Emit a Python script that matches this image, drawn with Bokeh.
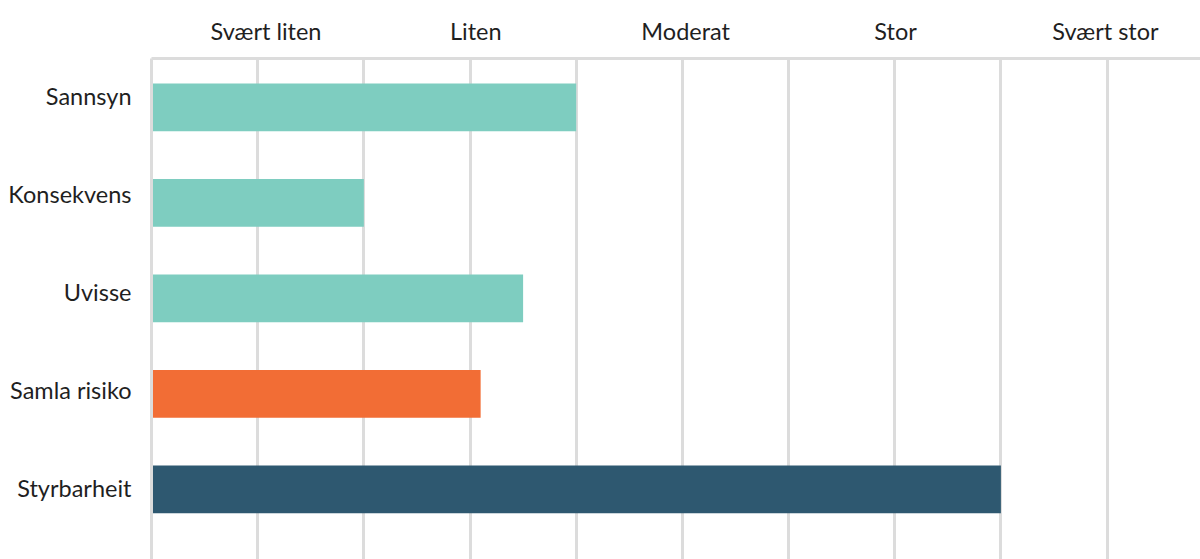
from bokeh.plotting import figure
from bokeh.models import Range1d, LinearAxis, FixedTicker, ColumnDataSource
from bokeh.embed import file_html
from bokeh.resources import INLINE

categories = ["Sannsyn", "Konsekvens", "Uvisse", "Samla risiko", "Styrbarheit"]
values = [4.0, 2.0, 3.5, 3.1, 8.0]
colors = ["#7ECDC0", "#7ECDC0", "#7ECDC0", "#F26D35", "#2E5870"]
levels = ["Svært liten", "Liten", "Moderat", "Stor", "Svært stor"]

FONT = "Lato"
FS = "23.5px"
TXT = "#1f1f1f"
GRID = "#dcdcdc"

ypos = list(range(len(categories)))
src = ColumnDataSource(dict(y=ypos, v=values, c=colors, cat=categories))

p = figure(width=1200, height=559, output_backend="svg", toolbar_location=None,
           x_range=Range1d(0, 9.88), y_range=Range1d(4.733, -0.513),
           x_axis_location=None, y_axis_location=None,
           min_border_left=151, min_border_top=58, min_border_right=0, min_border_bottom=0)
p.outline_line_color = None
p.background_fill_color = "white"
p.border_fill_color = "white"

p.hbar(y="y", left=0, right="v", height=0.5, color="c", source=src, line_color=None)

# grid
p.ygrid.visible = False
p.xgrid.ticker = FixedTicker(ticks=list(range(0, 10)))
p.xgrid.grid_line_color = GRID
p.xgrid.grid_line_width = 3

# top axis with level labels
p.extra_x_ranges = {"lvl": Range1d(-0.091, 9.906)}
xa = LinearAxis(x_range_name="lvl")
xa.ticker = FixedTicker(ticks=[2 * i + 1 for i in range(len(levels))])
xa.major_label_overrides = {2 * i + 1: t for i, t in enumerate(levels)}
xa.major_tick_line_color = None
xa.minor_tick_line_color = None
xa.major_tick_out = 0
xa.major_tick_in = 0
xa.axis_line_color = GRID
xa.axis_line_width = 3
xa.major_label_standoff = 14
xa.major_label_text_font = FONT
xa.major_label_text_font_size = FS
xa.major_label_text_color = TXT
p.add_layout(xa, "above")

# left category labels on their own scale
p.extra_y_ranges = {"lbl": Range1d(4.734, -0.378)}
ya = LinearAxis(y_range_name="lbl")
ya.ticker = FixedTicker(ticks=ypos)
ya.major_label_overrides = {i: c for i, c in enumerate(categories)}
ya.major_tick_line_color = None
ya.minor_tick_line_color = None
ya.major_tick_out = 0
ya.major_tick_in = 0
ya.axis_line_color = GRID
ya.axis_line_width = 3
ya.major_label_standoff = 20
ya.major_label_text_font = FONT
ya.major_label_text_font_size = FS
ya.major_label_text_color = TXT
p.add_layout(ya, "left")

open("out.html", "w").write(file_html(p, INLINE))
